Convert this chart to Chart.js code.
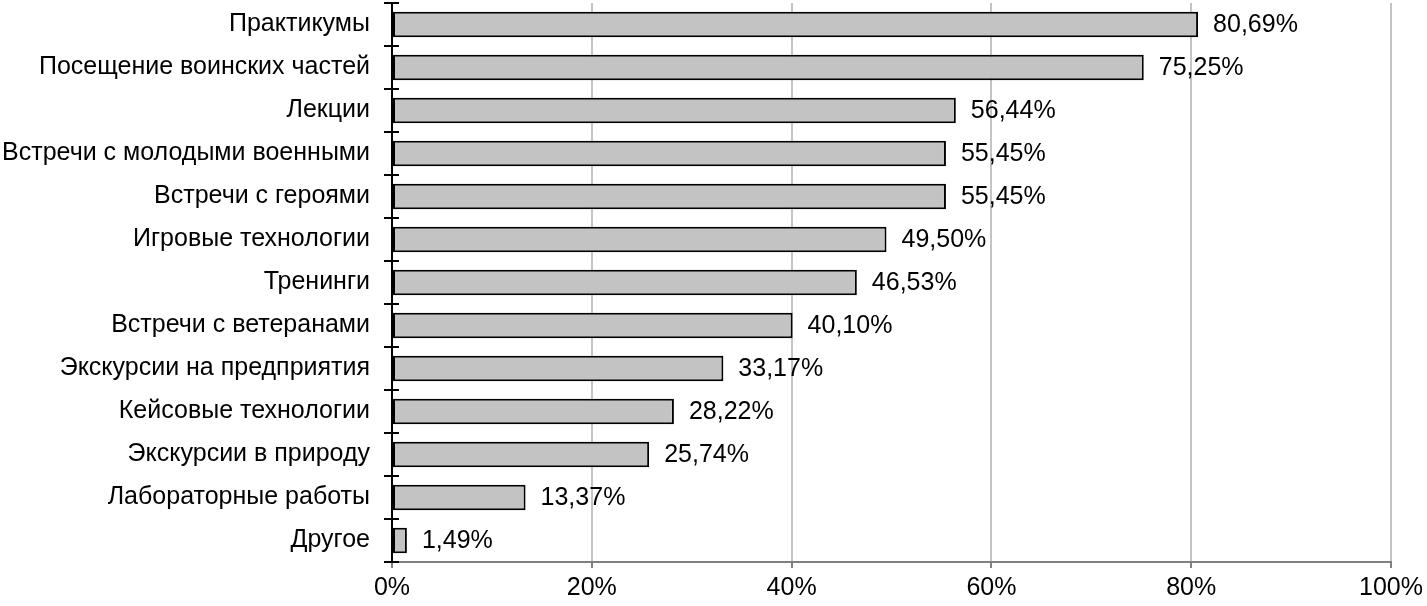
<!DOCTYPE html>
<html>
<head>
<meta charset="utf-8">
<script src="https://cdn.jsdelivr.net/npm/chart.js@4/dist/chart.umd.min.js"></script>
<style>
  html, body { margin: 0; padding: 0; background: #fff; }
  #wrap { width: 1427px; height: 606px; }
</style>
</head>
<body>
<div id="wrap"><canvas id="c" width="1427" height="606"></canvas></div>
<script>
const categories = [
  "Практикумы",
  "Посещение воинских частей",
  "Лекции",
  "Встречи с молодыми военными",
  "Встречи с героями",
  "Игровые технологии",
  "Тренинги",
  "Встречи с ветеранами",
  "Экскурсии на предприятия",
  "Кейсовые технологии",
  "Экскурсии в природу",
  "Лабораторные работы",
  "Другое"
];
const values = [80.69, 75.25, 56.44, 55.45, 55.45, 49.50, 46.53, 40.10, 33.17, 28.22, 25.74, 13.37, 1.49];
const xTicks = [0, 20, 40, 60, 80, 100];

const FONT = "'Liberation Sans', Arial, sans-serif";
const FS = 25;

const fmt = v => v.toFixed(2).replace('.', ',') + '%';

const labelPlugin = {
  id: 'valueLabels',
  afterDatasetsDraw(chart) {
    const ctx = chart.ctx;
    const meta = chart.getDatasetMeta(0);
    ctx.save();
    ctx.font = FS + 'px ' + FONT;
    ctx.fillStyle = '#000';
    ctx.textAlign = 'left';
    ctx.textBaseline = 'middle';
    meta.data.forEach((bar, i) => {
      ctx.fillText(fmt(values[i]), bar.x + 15, bar.y + 1);
    });
    ctx.restore();
  }
};

const innerTicks = {
  id: 'innerTicks',
  afterDraw(chart) {
    const y = chart.scales.y;
    const ctx = chart.ctx;
    const n = categories.length;
    const band = (y.bottom - y.top) / n;
    ctx.save();
    ctx.strokeStyle = '#000';
    ctx.lineWidth = 2;
    for (let i = 0; i <= n; i++) {
      const py = Math.round(y.top + i * band);
      ctx.beginPath();
      ctx.moveTo(y.right - 8, py);
      ctx.lineTo(y.right + 7, py);
      ctx.stroke();
    }
    ctx.restore();
  }
};

new Chart(document.getElementById('c'), {
  type: 'bar',
  data: {
    labels: categories,
    datasets: [{
      data: values,
      backgroundColor: '#c3c3c3',
      borderColor: '#000',
      borderWidth: 2,
      borderSkipped: false,
      categoryPercentage: 1,
      barPercentage: 0.59
    }]
  },
  options: {
    indexAxis: 'y',
    responsive: false,
    animation: false,
    layout: { padding: { top: 3, right: 36, left: 0, bottom: 0 } },
    plugins: { legend: { display: false }, tooltip: { enabled: false } },
    scales: {
      x: {
        min: 0, max: 100,
        afterBuildTicks(scale) { scale.ticks = xTicks.map(v => ({ value: v })); },
        afterFit(scale) { scale.height = 44; scale.paddingLeft = 0; scale.paddingRight = 0; },
        ticks: {
          callback: v => v + '%',
          color: '#000',
          font: { family: FONT, size: FS },
          padding: 5,
          maxRotation: 0
        },
        grid: { color: '#c4c4c4', lineWidth: 2, tickColor: '#808080', tickLength: 6 },
        border: { color: '#808080', width: 2 }
      },
      y: {
        afterFit(scale) { scale.width = 392; scale.paddingTop = 0; scale.paddingBottom = 0; },
        ticks: {
          color: '#000',
          font: { family: FONT, size: FS },
          padding: 22
        },
        grid: { drawOnChartArea: false, drawTicks: false, offset: true },
        border: { color: '#000', width: 2 }
      }
    }
  },
  plugins: [labelPlugin, innerTicks]
});
</script>
</body>
</html>
